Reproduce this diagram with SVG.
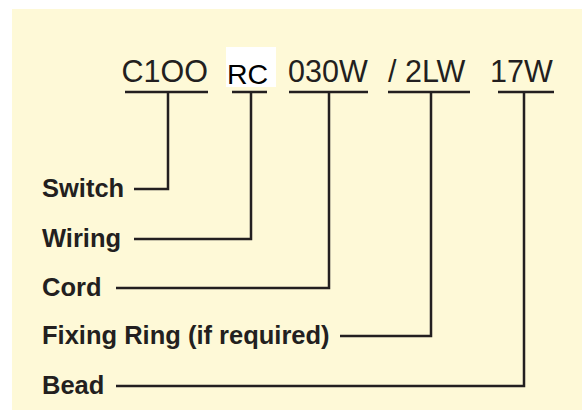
<svg xmlns="http://www.w3.org/2000/svg" width="588" height="410" viewBox="0 0 588 410">
<style>
.code{font-family:"Liberation Sans",Arial,sans-serif;font-size:30.5px;fill:#231f20}
.lbl{font-family:"Liberation Sans",Arial,sans-serif;font-size:25.5px;font-weight:bold;fill:#231f20}
.ln{fill:none;stroke:#231f20;stroke-width:2.5}
</style>
<rect x="12" y="9" width="570" height="401" fill="#fef9d7"/>
<g id="code-c100"><text class="code" x="121.5" y="82">C1OO</text><line class="ln" x1="125" y1="92" x2="208" y2="92"/></g>
<g id="code-rc"><rect x="226" y="47" width="50" height="40" fill="#ffffff"/><text class="code" x="227" y="84" style="font-size:28.5px;fill:#000">RC</text><line class="ln" x1="232" y1="92" x2="267" y2="92"/></g>
<g id="code-030w"><text class="code" x="288" y="82">030W</text><line class="ln" x1="289" y1="92" x2="368" y2="92"/></g>
<g id="code-2lw"><text class="code" x="388" y="82">/ 2LW</text><line class="ln" x1="388" y1="92" x2="470" y2="92"/></g>
<g id="code-17w"><text class="code" x="490" y="82">17W</text><line class="ln" x1="498" y1="92" x2="554" y2="92"/></g>
<g id="label-switch"><text class="lbl" x="42" y="197">Switch</text></g>
<g id="label-wiring"><text class="lbl" x="42" y="247">Wiring</text></g>
<g id="label-cord"><text class="lbl" x="42" y="296">Cord</text></g>
<g id="label-fixing"><text class="lbl" x="42" y="344">Fixing Ring (if required)</text></g>
<g id="label-bead"><text class="lbl" x="42" y="394">Bead</text></g>
<g id="connectors">
<polyline class="ln" points="168,92 168,189 134,189"/>
<polyline class="ln" points="251,92 251,239 134,239"/>
<polyline class="ln" points="329,92 329,288 116,288"/>
<polyline class="ln" points="431,92 431,336 340,336"/>
<polyline class="ln" points="524,92 524,386 116,386"/>
</g>
</svg>
